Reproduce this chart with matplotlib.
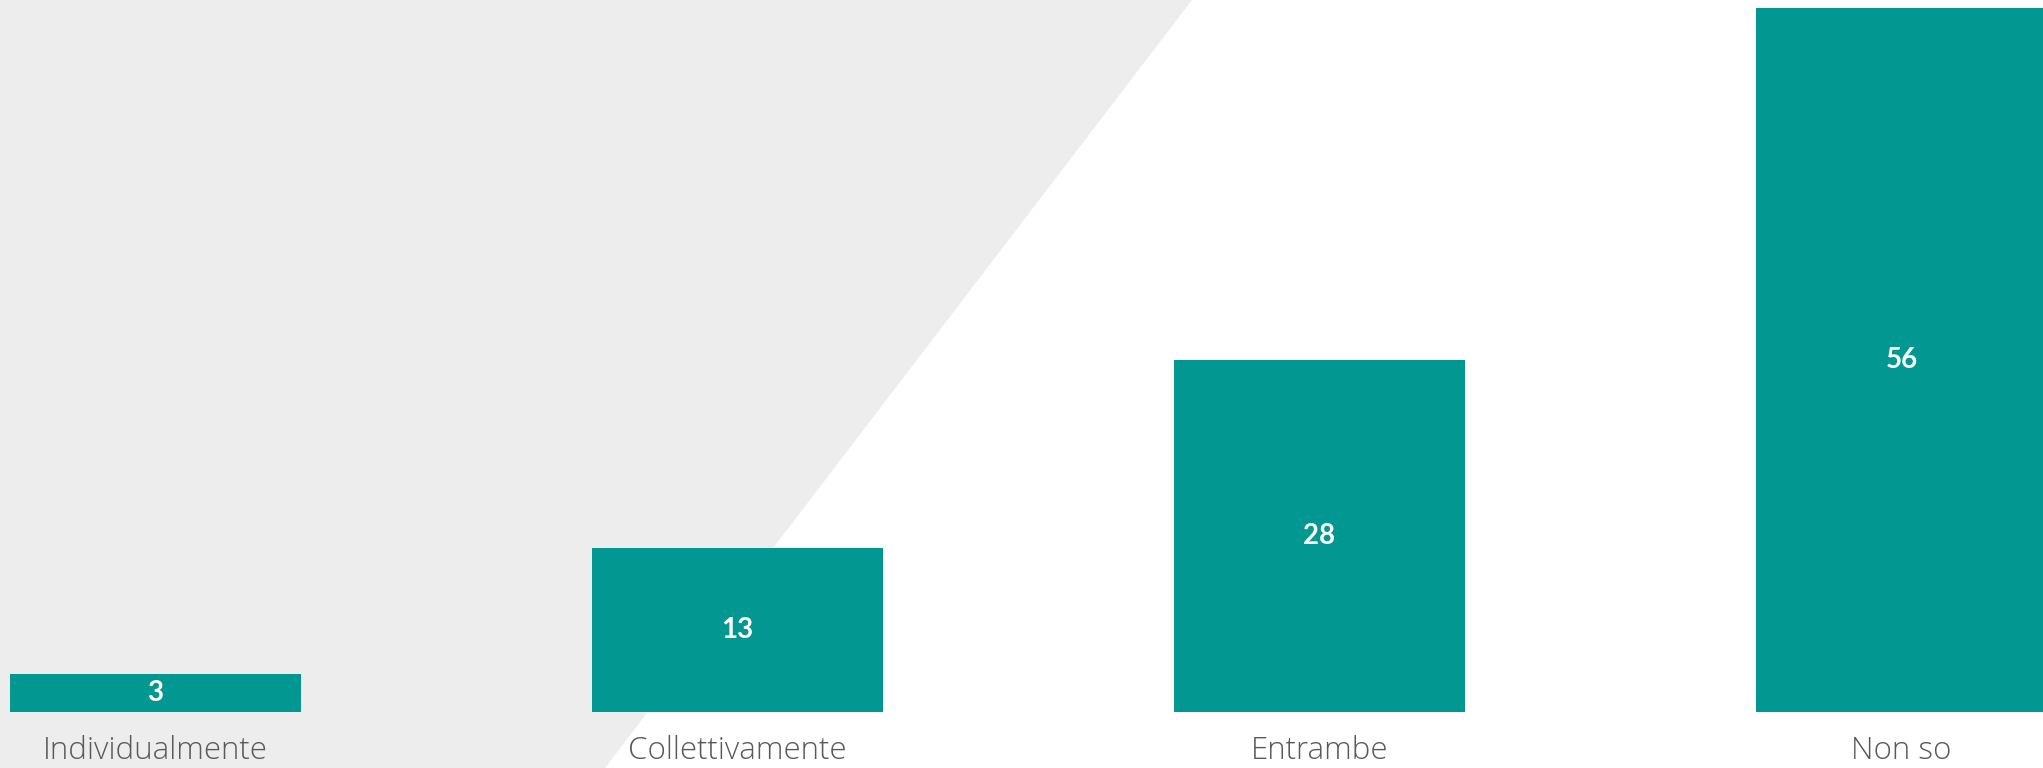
import matplotlib
matplotlib.use("Agg")
import matplotlib.pyplot as plt
from matplotlib.patches import Polygon

categories = ["Individualmente", "Collettivamente", "Entrambe", "Non so"]
values = [3, 13, 28, 56]

W, H = 2043, 768
fig = plt.figure(figsize=(W / 100, H / 100), dpi=100)
fig.patch.set_facecolor("white")

# grey background trapezoid
bg = Polygon([(0, 1), (1192 / W, 1), (605 / W, 0), (0, 0)], closed=True,
             transform=fig.transFigure, facecolor="#EDEDED", edgecolor="none", zorder=0)
fig.patches.append(bg)

ax_h = 712
ax = fig.add_axes([0, (H - ax_h) / H, 1, ax_h / H])
ax.set_zorder(2)
ax.set_facecolor("none")
spacing = 582
x0 = 155.5
ax.set_xlim(-x0 / spacing, (W - x0) / spacing)
ax.set_ylim(0, ax_h / 12.58)

xs = list(range(len(categories)))
bars = ax.bar(xs, values, width=0.5, color="#029891", edgecolor="none", zorder=2)
for x, v in zip(xs, values):
    ax.text(x, v / 2, str(v), ha="center", va="center", color="white",
            fontsize=20, fontweight="bold", family=["Lato", "DejaVu Sans"], zorder=3)

ax.set_xticks([])
for x, lab in zip(xs, categories):
    ax.text(x, -47 / ax_h, lab, transform=ax.get_xaxis_transform(),
            ha="center", va="baseline", fontsize=22.5, color="#595959",
            family=["Open Sans", "DejaVu Sans"], fontweight="light", clip_on=False)
ax.set_yticks([])
for s in ax.spines.values():
    s.set_visible(False)

fig.savefig("out.png", dpi=100, facecolor=fig.get_facecolor())
